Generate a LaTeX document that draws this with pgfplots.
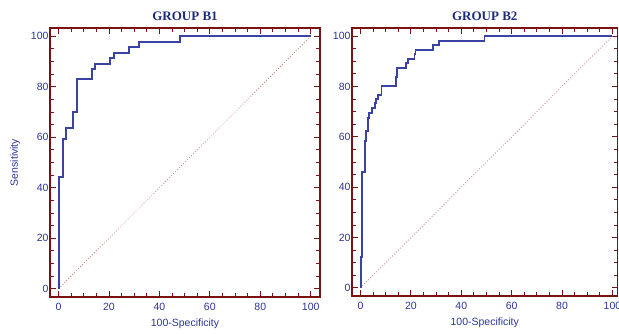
\documentclass[border=0pt]{standalone}
\usepackage{fontspec}
\setmainfont{Liberation Sans}
\newfontfamily\titlefont{Liberation Serif}
\usepackage{pgfplots}
\pgfplotsset{compat=1.18}
\definecolor{frame}{HTML}{7A1212}
\definecolor{txt}{HTML}{2B3598}
\definecolor{ttl}{HTML}{1E2C7A}
\definecolor{curve}{HTML}{3A42A4}
\definecolor{diag}{HTML}{D07C7C}
\pgfplotsset{
  rocaxis/.style={
    scale only axis,
    axis line style={frame, line width=1.8pt},
    tick align=inside,
    tick style={frame, line width=0.9pt},
    major tick length=6pt,
    minor tick length=4pt,
    xtick={0,20,...,100}, ytick={0,20,...,100},
    minor xtick={5,10,...,95}, minor ytick={5,10,...,95},
    ticklabel style={font=\fontsize{10.5}{12}\selectfont, text=txt},
    /pgf/number format/assume math mode=true,
    xticklabel style={yshift=-3pt},
    yticklabel style={xshift=2pt},
    xlabel style={font=\fontsize{10.5}{12}\selectfont, text=txt, yshift=-1pt},
    ylabel style={font=\fontsize{10.5}{12}\selectfont, text=txt, yshift=4pt},
    title style={font=\titlefont\bfseries\fontsize{13}{15}\selectfont, text=ttl, yshift=-2pt},
    xlabel={100-Specificity},
    clip=false,
  }
}
\begin{document}
\begin{tikzpicture}
\useasboundingbox (0pt,0pt) rectangle (619pt,334pt);
\begin{axis}[rocaxis,
  at={(50pt,37pt)}, anchor=south west,
  width=270pt, height=269pt,
  xmin=-3.4, xmax=103.7, ymin=-3.3, ymax=103.3,
  ylabel={Sensitivity},
  title={GROUP B1}]
\addplot[diag, dotted, line width=0.8pt] coordinates {(0,0) (100,100)};
\addplot[curve, line width=1.9pt, const plot, line join=miter] coordinates {
(0,0) (0,44.4) (1.6,59.2) (2.8,63.8) (5.8,69.9) (7.3,83.0) (13.1,86.9)
(14.4,89.2) (20.4,91.3) (22.0,93.5) (27.8,95.6) (32.0,97.6) (48.1,100) (100,100)};
\end{axis}
\begin{axis}[rocaxis,
  at={(352pt,38pt)}, anchor=south west,
  width=265.5pt, height=268pt,
  xmin=-3.4, xmax=102.0, ymin=-3.2, ymax=103.2,
  title={GROUP B2}]
\addplot[diag, dotted, line width=0.8pt] coordinates {(0,0) (100,100)};
\addplot[curve, line width=1.9pt, const plot, line join=miter] coordinates {
(0,0) (0,12.4) (0.7,46.2) (1.6,58.5) (2.2,62.3) (2.9,67.6) (3.3,69.6)
(4.6,71.6) (5.8,73.3) (6.3,75.0) (6.9,76.7) (8.3,80.2) (14.0,83.9)
(14.4,87.3) (18.1,89.2) (18.7,91.0) (21.4,92.9) (21.8,94.6) (28.7,96.3)
(31.1,98.1) (49.2,100) (100,100)};
\end{axis}
\end{tikzpicture}
\end{document}
